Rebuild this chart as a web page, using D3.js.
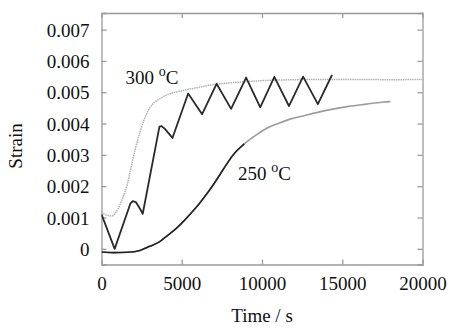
<!DOCTYPE html>
<html>
<head>
<meta charset="utf-8">
<script src="https://cdn.jsdelivr.net/npm/d3@7/dist/d3.min.js"></script>
<style>
  html, body { margin: 0; padding: 0; background: #fff; }
  svg { display: block; }
  svg text { font-family: "Liberation Serif", "DejaVu Serif", serif !important; fill: #111; }
</style>
</head>
<body>
<svg id="chart" width="457" height="332"></svg>
<script>
// ---- data ----
const xTicks = [0, 5000, 10000, 15000, 20000];
const yTicks = [0, 0.001, 0.002, 0.003, 0.004, 0.005, 0.006, 0.007];
const yTickLabels = ["0", "0.001", "0.002", "0.003", "0.004", "0.005", "0.006", "0.007"];

// 300 °C continuous curve (light grey)
const time300 = [0, 300, 650, 1000, 1300, 1600, 1850, 2100, 2350, 2600, 2900, 3200, 3600, 4000, 4600, 5200, 6000, 6700, 7600, 8500, 10000, 12000, 14000, 16000, 18000, 20000];
const strain300 = [0.00118, 0.00108, 0.00105, 0.00125, 0.00160, 0.00205, 0.00262, 0.00318, 0.00365, 0.00405, 0.00440, 0.00463, 0.00478, 0.00490, 0.00500, 0.00507, 0.00515, 0.00522, 0.00528, 0.00532, 0.00537, 0.00540, 0.00541, 0.00541, 0.00540, 0.00541];

// 300 °C stepped / cycled curve (black zig-zag)
const timeZig = [0, 820, 1800, 1950, 2150, 2400, 2570, 3610, 3750, 3950, 4200, 4420, 5400, 6270, 7170, 8075, 9010, 9890, 10770, 11680, 12560, 13480, 14360];
const strainZig = [0.00110, 0.00000, 0.00145, 0.00152, 0.00149, 0.00128, 0.00112, 0.00390, 0.00392, 0.00383, 0.00368, 0.00354, 0.00496, 0.00430, 0.00527, 0.00447, 0.00547, 0.00452, 0.00549, 0.00456, 0.00550, 0.00462, 0.00555];

// 250 °C curve
const time250 = [0, 800, 1600, 2400, 3000, 3600, 4000, 4500, 5000, 5600, 6100, 6600, 7100, 7600, 8200, 8900, 9600, 10300, 11000, 11800, 12600, 13400, 14400, 15400, 16500, 17500, 18000];
const strain250 = [-0.00010, -0.00012, -0.00011, -0.00005, 0.00008, 0.00022, 0.00038, 0.00058, 0.00082, 0.00115, 0.00145, 0.00178, 0.00215, 0.00255, 0.00300, 0.00335, 0.00362, 0.00385, 0.00400, 0.00415, 0.00425, 0.00435, 0.00446, 0.00455, 0.00462, 0.00468, 0.00470];
const blackEnd250 = 8900; // portion of the 250 °C curve drawn dark

// ---- layout ----
const svg = d3.select("#chart");
const m = { left: 101.5, top: 13, right: 457 - 422.5, bottom: 332 - 264.5 };
const W = 457 - m.left - m.right;
const H = 332 - m.top - m.bottom;

const x = d3.scaleLinear().domain([0, 20000]).range([m.left, m.left + W]);
const y = d3.scaleLinear().domain([-0.0005, 0.00753]).range([m.top + H, m.top]);

const frameColor = "#9a9a9a";
const fs = 19;
const serif = "'Liberation Serif', 'DejaVu Serif', serif";

// clip
svg.append("clipPath").attr("id", "clip").append("rect")
  .attr("x", m.left).attr("y", m.top).attr("width", W).attr("height", H);

// axes with inward ticks
const axB = svg.append("g").attr("transform", `translate(0,${m.top + H})`)
  .call(d3.axisBottom(x).tickValues(xTicks).tickSize(-5).tickPadding(12).tickFormat(d3.format("d")));
const axT = svg.append("g").attr("transform", `translate(0,${m.top})`)
  .call(d3.axisTop(x).tickValues(xTicks).tickSize(-5).tickFormat(""));
const axL = svg.append("g").attr("transform", `translate(${m.left},0)`)
  .call(d3.axisLeft(y).tickValues(yTicks).tickSize(-5).tickPadding(12)
    .tickFormat((d, i) => yTickLabels[i]));
const axR = svg.append("g").attr("transform", `translate(${m.left + W},0)`)
  .call(d3.axisRight(y).tickValues(yTicks).tickSize(-5).tickFormat(""));

[axB, axT, axL, axR].forEach(g => {
  g.attr("font-family", serif).attr("font-size", fs);
  g.select(".domain").attr("stroke", frameColor).attr("stroke-width", 1.3);
  g.selectAll(".tick line").attr("stroke", frameColor).attr("stroke-width", 1.3);
  g.selectAll(".tick text").style("font-size", fs + "px")
    .style("font-family", serif).attr("fill", "#111");
});
axB.selectAll(".tick").filter(d => d === 0 || d === 20000).select("line").remove();
axT.selectAll(".tick").filter(d => d === 0 || d === 20000).select("line").remove();
axL.selectAll(".tick text").attr("dy", "0.35em");

// ---- lines ----
const plot = svg.append("g").attr("clip-path", "url(#clip)");
const line = d3.line().x(d => x(d[0])).y(d => y(d[1])).curve(d3.curveMonotoneX);
const lineLin = d3.line().x(d => x(d[0])).y(d => y(d[1])).curve(d3.curveLinear);

const d300 = time300.map((t, i) => [t, strain300[i]]);
const dZig = timeZig.map((t, i) => [t, strainZig[i]]);
const d250 = time250.map((t, i) => [t, strain250[i]]);
const d250b = d250.filter(d => d[0] <= blackEnd250);

plot.append("path").datum(d300).attr("d", line)
  .attr("fill", "none").attr("stroke", "#b0b0b0").attr("stroke-width", 1.5)
  .attr("stroke-dasharray", "1.5,0.8");

plot.append("path").datum(d250).attr("d", line)
  .attr("fill", "none").attr("stroke", "#9c9c9c").attr("stroke-width", 1.6);
plot.append("path").datum(d250b).attr("d", line)
  .attr("fill", "none").attr("stroke", "#222").attr("stroke-width", 1.6);

plot.append("path").datum(dZig).attr("d", lineLin)
  .attr("fill", "none").attr("stroke", "#2a2a2a").attr("stroke-width", 1.8)
  .attr("stroke-linejoin", "round");

// ---- texts ----
function tempLabel(px, py, num) {
  const t = svg.append("text").attr("x", px).attr("y", py).style("font-size", fs + "px");
  t.append("tspan").text(num + " ");
  t.append("tspan").style("font-size", "14px").attr("dy", -8).text("o");
  t.append("tspan").attr("dy", 8).text("C");
}
tempLabel(125.5, 84, "300");
tempLabel(238, 179.5, "250");

svg.append("text").attr("x", (m.left + m.left + W) / 2).attr("y", 322)
  .attr("text-anchor", "middle").style("font-size", fs + "px").text("Time / s");

svg.append("text").attr("transform", `translate(22,146) rotate(-90)`)
  .attr("text-anchor", "middle").style("font-size", fs + "px").text("Strain");
</script>
</body>
</html>
